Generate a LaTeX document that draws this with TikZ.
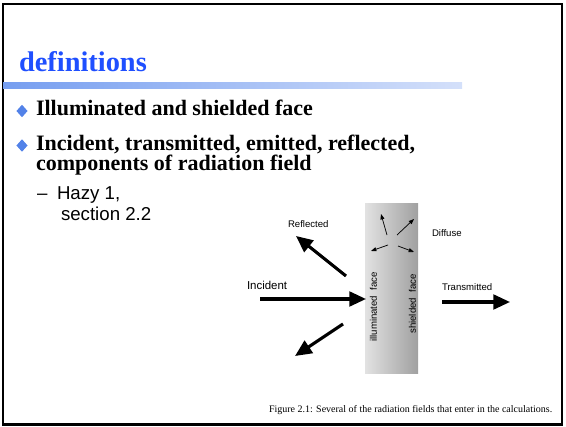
\documentclass[tikz,border=0pt]{standalone}
\usepackage{fontspec}
\setmainfont{Liberation Serif}
\setsansfont{Liberation Sans}
\usetikzlibrary{arrows.meta,shapes.geometric}
\definecolor{titleblue}{RGB}{31,79,255}
\definecolor{bulletblue}{RGB}{82,130,232}
\definecolor{barleft}{RGB}{118,158,240}
\definecolor{barright}{RGB}{212,224,250}
\definecolor{slableft}{RGB}{226,226,226}
\definecolor{slabright}{RGB}{160,160,160}
\tikzset{
  txt/.style={inner sep=0pt, outer sep=0pt, anchor=base west},
  bigtxt/.style={txt, font=\fontsize{16.5}{20}\selectfont\bfseries},
  subtxt/.style={txt, font=\sffamily\fontsize{14}{16}\selectfont},
  lbl/.style={txt, font=\sffamily\fontsize{7.2}{8}\selectfont},
  vlbl/.style={inner sep=0pt, rotate=90, font=\sffamily\fontsize{7.2}{8}\selectfont},
  bul/.style={diamond, fill=bulletblue, inner sep=0pt, minimum width=8.5, minimum height=9.5},
  fatarrow/.style={line width=2.3pt, -{Triangle[length=12.5pt, width=11pt]}},
  thinarrow/.style={line width=0.55pt, -{Triangle[length=4pt, width=3pt]}},
}
\begin{document}
\begin{tikzpicture}[x=0.75pt, y=-0.75pt]
\useasboundingbox (0,0) rectangle (566,427);
% frame
\draw[line width=1.9pt] (3,4) rectangle (562,424.5);
% title
\node[txt, text=titleblue, font=\fontsize{21.3}{24}\selectfont\bfseries] (title) at (19,72) {definitions};
\shade[left color=barleft, right color=barright] (3,83) rectangle (462,88.5);
% bullets
\node[bul] (b1) at (22,111) {};
\node[bigtxt] (t1) at (36,116) {Illuminated and shielded face};
\node[bul] (b2) at (22,145.5) {};
\node[bigtxt] (t2) at (36,151) {Incident, transmitted, emitted, reflected,};
\node[bigtxt] (t3) at (36,171) {components of radiation field};
\node[subtxt] (dash) at (37,200) {--};
\node[subtxt] (t4) at (57,200) {Hazy 1,};
\node[subtxt] (t5) at (61,221) {section 2.2};
% slab
\shade[left color=slableft, right color=slabright] (365,204) rectangle (418,373);
\node[vlbl] (illum) at (373.5,307) {illuminated\ \ face};
\node[vlbl] (shield) at (412.5,304) {shielded\ \ face};
% diffuse arrows
\coordinate (d1s) at (387,235); \coordinate (d1e) at (381,214);
\coordinate (d2s) at (397,235); \coordinate (d2e) at (414,219);
\coordinate (d3s) at (388,245); \coordinate (d3e) at (371,251);
\coordinate (d4s) at (398,246); \coordinate (d4e) at (414,252);
\draw[thinarrow] (d1s) -- (d1e);
\draw[thinarrow] (d2s) -- (d2e);
\draw[thinarrow] (d3s) -- (d3e);
\draw[thinarrow] (d4s) -- (d4e);
% labels
\node[lbl] (refl) at (288,228) {Reflected};
\node[lbl] (diff) at (432,237) {Diffuse};
\node[txt, font=\sffamily\fontsize{8.6}{10}\selectfont] (inc) at (247,289) {Incident};
\node[lbl] (trans) at (442,290) {Transmitted};
% big arrows
\coordinate (is) at (260,299); \coordinate (ie) at (366,299);
\coordinate (rs) at (346,276); \coordinate (re) at (296,236);
\coordinate (ls) at (343,324); \coordinate (le) at (295,356);
\coordinate (ts) at (442,302); \coordinate (te) at (510,302);
\draw[fatarrow] (is) -- (ie);
\draw[fatarrow] (rs) -- (re);
\draw[fatarrow] (ls) -- (le);
\draw[fatarrow] (ts) -- (te);
% caption
\node[txt, font=\fontsize{7.5}{8.5}\selectfont] (cap) at (269,412) {Figure 2.1: Several of the radiation fields that enter in the calculations.};
\end{tikzpicture}
\end{document}
